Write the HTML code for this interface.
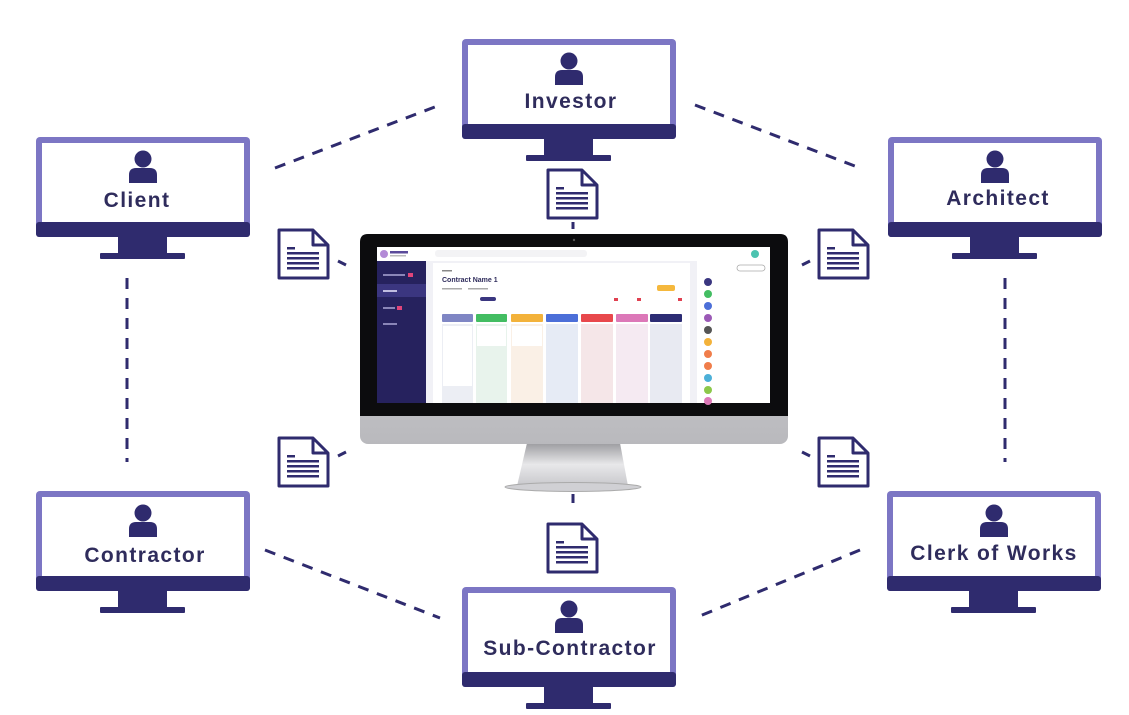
<!DOCTYPE html>
<html><head><meta charset="utf-8"><style>
html,body{margin:0;padding:0;background:#fff;}
svg{display:block;}
text{font-family:"Liberation Sans","DejaVu Sans",sans-serif;font-weight:bold;fill:#2f2c5c;}
.lbl{font-size:21px;letter-spacing:1.4px;}
</style></head><body>
<svg width="1129" height="715" viewBox="0 0 1129 715" xmlns="http://www.w3.org/2000/svg">
<defs>
<g id="mon">
  <rect x="0" y="0" width="214" height="100" rx="4" fill="#7c76c4"/>
  <rect x="6" y="6" width="202" height="79" fill="#fff"/>
  <rect x="0" y="85" width="214" height="15" rx="3" fill="#2f2b6e"/>
  <rect x="82" y="99" width="49" height="18" fill="#2f2b6e"/>
  <rect x="64" y="116" width="85" height="6" rx="1" fill="#2f2b6e"/>
  <circle cx="107" cy="22" r="8.5" fill="#2f2b6e"/>
  <path d="M93 46 L93 38 Q93 31 100 31 L114 31 Q121 31 121 38 L121 46 Z" fill="#2f2b6e"/>
</g>
<g id="doc">
  <path d="M2 2 L36 2 L51 17 L51 50 L2 50 Z" fill="#fff" stroke="#2f2b6e" stroke-width="3" stroke-linejoin="round"/>
  <path d="M36 2 L36 17 L51 17" fill="none" stroke="#2f2b6e" stroke-width="3" stroke-linejoin="round"/>
  <rect x="10" y="19" width="8" height="2.5" fill="#2f2b6e"/>
  <rect x="10" y="24" width="32" height="2.5" fill="#2f2b6e"/>
  <rect x="10" y="29" width="32" height="2.5" fill="#2f2b6e"/>
  <rect x="10" y="34" width="32" height="2.5" fill="#2f2b6e"/>
  <rect x="10" y="39" width="32" height="2.5" fill="#2f2b6e"/>
</g>
</defs>

<g stroke="#2f2b6e" stroke-width="3" stroke-dasharray="11 9" fill="none">
  <line x1="275" y1="168" x2="440" y2="105"/>
  <line x1="695" y1="105" x2="860" y2="168"/>
  <line x1="127" y1="278" x2="127" y2="462"/>
  <line x1="1005" y1="278" x2="1005" y2="462"/>
  <line x1="265" y1="550" x2="440" y2="618"/>
  <line x1="860" y1="550" x2="695" y2="618"/>
</g>
<g stroke="#2f2b6e" stroke-width="3">
  <line x1="338" y1="261" x2="346" y2="265"/>
  <line x1="338" y1="456" x2="346" y2="452"/>
  <line x1="802" y1="265" x2="810" y2="261"/>
  <line x1="802" y1="452" x2="810" y2="456"/>
  <line x1="573" y1="222" x2="573" y2="229"/>
  <line x1="573" y1="494" x2="573" y2="503"/>
</g>

<use href="#mon" x="36" y="137"/><text class="lbl" x="137" y="207" text-anchor="middle">Client</text>
<use href="#mon" x="462" y="39"/><text class="lbl" x="571" y="108" text-anchor="middle">Investor</text>
<use href="#mon" x="888" y="137"/><text class="lbl" x="998" y="205" text-anchor="middle">Architect</text>
<use href="#mon" x="36" y="491"/><text class="lbl" x="145" y="562" text-anchor="middle">Contractor</text>
<use href="#mon" x="887" y="491"/><text class="lbl" x="994" y="560" text-anchor="middle">Clerk of Works</text>
<use href="#mon" x="462" y="587"/><text class="lbl" x="570" y="655" text-anchor="middle">Sub-Contractor</text>

<use href="#doc" x="277" y="228"/>
<use href="#doc" x="817" y="228"/>
<use href="#doc" x="277" y="436"/>
<use href="#doc" x="817" y="436"/>
<use href="#doc" x="546" y="168"/>
<use href="#doc" x="546" y="522"/>

<defs>
  <linearGradient id="chin" x1="0" y1="0" x2="0" y2="1"><stop offset="0" stop-color="#d9d9dc"/><stop offset="1" stop-color="#b9b9bd"/></linearGradient>
  <linearGradient id="neck" x1="0" y1="0" x2="0" y2="1"><stop offset="0" stop-color="#9c9ca0"/><stop offset="0.5" stop-color="#e8e8ea"/><stop offset="1" stop-color="#c8c8cc"/></linearGradient>
</defs>
<path d="M527 443 L620 443 L628 486 L517 486 Z" fill="url(#neck)"/>
<ellipse cx="573" cy="487" rx="68" ry="4.5" fill="#d0d0d4" stroke="#aaa" stroke-width="1"/>
<rect x="360" y="234" width="428" height="210" rx="8" fill="url(#chin)"/>
<path d="M368 234 L780 234 Q788 234 788 242 L788 416 L360 416 L360 242 Q360 234 368 234 Z" fill="#0c0c0e"/>
<circle cx="574" cy="240" r="1.2" fill="#555"/>
<rect x="377" y="247" width="393" height="156" fill="#f1f1f6"/>
<rect x="377" y="247" width="393" height="14" fill="#fff"/>
<circle cx="384" cy="254" r="4" fill="#b38ad6"/>
<rect x="390" y="251" width="18" height="2.5" fill="#5a4a9a"/>
<rect x="390" y="255" width="16" height="1.5" fill="#bbb"/>
<rect x="435" y="250" width="152" height="7" rx="3" fill="#f3f3f5"/>
<circle cx="755" cy="254" r="4" fill="#4cc3b0"/>
<rect x="377" y="261" width="49" height="142" fill="#26225e"/>
<rect x="377" y="284" width="49" height="13" fill="#3b3680"/>
<rect x="383" y="274" width="22" height="2" fill="#8a86b8"/><rect x="408" y="273" width="5" height="4" fill="#e0457a"/>
<rect x="383" y="290" width="14" height="2" fill="#c0bde0"/>
<rect x="383" y="307" width="12" height="2" fill="#8a86b8"/><rect x="397" y="306" width="5" height="4" fill="#e0457a"/>
<rect x="383" y="323" width="14" height="2" fill="#8a86b8"/>
<rect x="433" y="263" width="257" height="140" fill="#fff"/>
<rect x="442" y="270" width="10" height="1.5" fill="#888"/>
<text x="442" y="282" font-size="7" style="fill:#2f2c5c">Contract Name 1</text>
<rect x="442" y="288" width="20" height="1.5" fill="#aaa"/><rect x="468" y="288" width="20" height="1.5" fill="#aaa"/>
<rect x="480" y="297" width="16" height="4" rx="2" fill="#3a3680"/>
<rect x="657" y="285" width="18" height="6" rx="2" fill="#f5b83d"/>
<rect x="614" y="298" width="4" height="3" fill="#e04050"/><rect x="637" y="298" width="4" height="3" fill="#e04050"/><rect x="678" y="298" width="4" height="3" fill="#e04050"/>
<g>
  <rect x="442" y="314" width="31" height="8" rx="1" fill="#7f86c4"/><rect x="442" y="324" width="31" height="79" fill="#eceef4"/>
  <rect x="476" y="314" width="31" height="8" rx="1" fill="#43bd62"/><rect x="476" y="324" width="31" height="79" fill="#e8f3ec"/>
  <rect x="511" y="314" width="32" height="8" rx="1" fill="#f3b23a"/><rect x="511" y="324" width="32" height="79" fill="#faf0e6"/>
  <rect x="546" y="314" width="32" height="8" rx="1" fill="#4c6fd8"/><rect x="546" y="324" width="32" height="79" fill="#e6ebf5"/>
  <rect x="581" y="314" width="32" height="8" rx="1" fill="#e8484c"/><rect x="581" y="324" width="32" height="79" fill="#f5e6e8"/>
  <rect x="616" y="314" width="32" height="8" rx="1" fill="#dc78b8"/><rect x="616" y="324" width="32" height="79" fill="#f5eaf2"/>
  <rect x="650" y="314" width="32" height="8" rx="1" fill="#2c2c74"/><rect x="650" y="324" width="32" height="79" fill="#e8eaf2"/>
  <rect x="443" y="326" width="29" height="60" fill="#fff"/>
  <rect x="477" y="326" width="29" height="20" fill="#fff"/>
  <rect x="512" y="326" width="30" height="20" fill="#fff"/>
</g>
<rect x="697" y="261" width="73" height="142" fill="#fff"/>
<g>
  <circle cx="708" cy="282" r="4" fill="#3a3680"/>
  <circle cx="708" cy="294" r="4" fill="#43bd62"/>
  <circle cx="708" cy="306" r="4" fill="#4c6fd8"/>
  <circle cx="708" cy="318" r="4" fill="#9b59b6"/>
  <circle cx="708" cy="330" r="4" fill="#555"/>
  <circle cx="708" cy="342" r="4" fill="#f3b23a"/>
  <circle cx="708" cy="354" r="4" fill="#f07d4a"/>
  <circle cx="708" cy="366" r="4" fill="#f07d4a"/>
  <circle cx="708" cy="378" r="4" fill="#4cb0d8"/>
  <circle cx="708" cy="390" r="4" fill="#8cc84a"/>
  <circle cx="708" cy="401" r="4" fill="#dc78b8"/>
</g>
<rect x="737" y="265" width="28" height="6" rx="3" fill="none" stroke="#aaa" stroke-width="0.8"/>
</svg>
</body></html>
